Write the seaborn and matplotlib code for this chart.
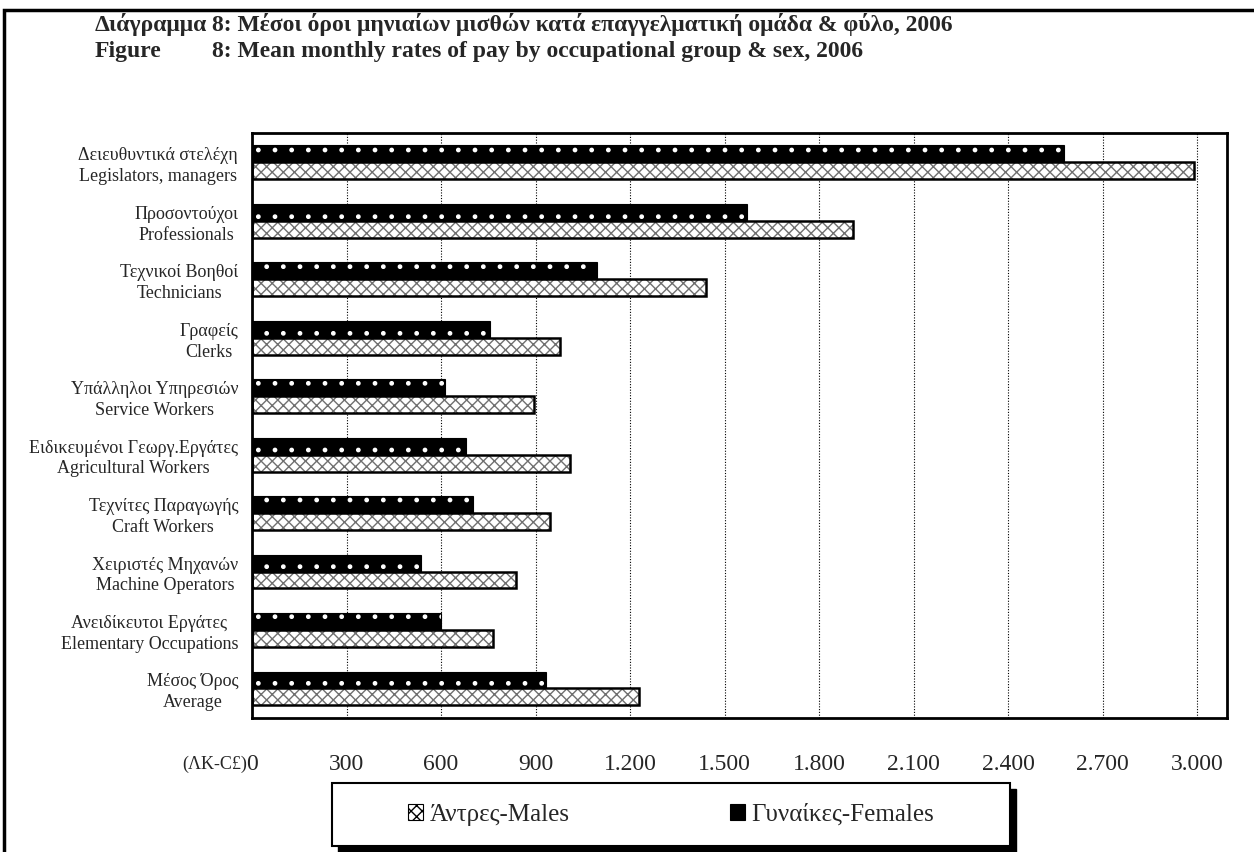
import numpy as np
import pandas as pd
import matplotlib
matplotlib.use("Agg")
import matplotlib.pyplot as plt
import matplotlib.ticker as mticker
from matplotlib.patches import Patch, Rectangle
import seaborn as sns

# data
groups_gr = ["Δειευθυντικά στελέχη", "Προσοντούχοι", "Τεχνικοί Βοηθοί", "Γραφείς",
             "Υπάλληλοι Υπηρεσιών", "Ειδικευμένοι Γεωργ.Εργάτες", "Τεχνίτες Παραγωγής",
             "Χειριστές Μηχανών", "Ανειδίκευτοι Εργάτες", "Μέσος Όρος"]
groups_en = ["Legislators, managers", "Professionals", "Technicians", "Clerks",
             "Service Workers", "Agricultural Workers", "Craft Workers",
             "Machine Operators", "Elementary Occupations", "Average"]
males = [2990, 1909, 1440, 977, 895, 1011, 945, 837, 766, 1230]
females = [2576, 1571, 1094, 754, 614, 678, 701, 538, 600, 932]
male_lbl = "Άντρες-Males"
female_lbl = "Γυναίκες-Females"
xticks = list(range(0, 3001, 300))

labels = [g + "\n" + e for g, e in zip(groups_gr, groups_en)]
df = pd.DataFrame({
    "group": labels * 2,
    "value": females + males,
    "sex": [female_lbl] * len(labels) + [male_lbl] * len(labels),
})

sns.set_style("white")
plt.rcParams["font.family"] = ["Liberation Serif", "DejaVu Serif"]
plt.rcParams["hatch.linewidth"] = 1.0

W, H = 1254, 852
fig = plt.figure(figsize=(W / 100, H / 100), dpi=100)
ax = fig.add_axes([252 / W, 1 - 717.7 / H, (1227 - 252) / W, (717.7 - 133) / H])

sns.barplot(data=df, y="group", x="value", hue="sex", hue_order=[female_lbl, male_lbl],
            order=labels, orient="h", width=0.58, ax=ax, legend=False, saturation=1)

male_hatch = dict(facecolor="white", edgecolor="#707070", hatch="xxx")
female_hatch = dict(facecolor="black", edgecolor="white", hatch=".")

n = len(labels)
for i, p in enumerate(ax.patches[:2 * n]):
    style = female_hatch if i < n else male_hatch
    p.set_facecolor(style["facecolor"])
    p.set_edgecolor(style["edgecolor"])
    p.set_hatch(style["hatch"])
    p.set_linewidth(0)
    # outline
    ax.add_patch(Rectangle(p.get_xy(), p.get_width(), p.get_height(),
                           fill=False, edgecolor="black", linewidth=1.8 if i >= n else 0.8,
                           zorder=p.get_zorder() + 0.1))

ax.set_xlim(0, 3095)
ax.set_ylim(n - 0.5, -0.5)
ax.set_xticks(xticks)
ax.xaxis.set_major_formatter(mticker.FuncFormatter(lambda v, _: f"{int(v):,}".replace(",", ".")))
ax.tick_params(axis="x", direction="out", length=7, width=1.2, labelsize=17, pad=19)
ax.grid(axis="x", color="black", linestyle=(0, (1, 1.5)), linewidth=0.8)
ax.set_axisbelow(True)

ax.set_yticks(range(n))
ax.set_yticklabels(labels)
ax.set_yticks(np.arange(-0.5, n, 1), minor=True)
ax.tick_params(axis="y", which="major", length=0, labelsize=13, pad=10)
ax.tick_params(axis="y", which="minor", direction="out", length=6, width=1.2)
for t in ax.get_yticklabels():
    t.set_multialignment("center")
    t.set_linespacing(1.3)
ax.set_xlabel("")
ax.set_ylabel("")
for s in ax.spines.values():
    s.set_visible(True)
    s.set_color("black")
    s.set_linewidth(2)

fig.text(247 / W, 1 - 769 / H, "(ΛΚ-C£)", ha="right", va="baseline", fontsize=13)

# title
tkw = dict(ha="left", va="center", fontsize=17, fontweight="bold")
fig.text(95 / W, 1 - 24 / H, "Διάγραμμα", **tkw)
fig.text(212 / W, 1 - 24 / H, "8: Μέσοι όροι μηνιαίων μισθών κατά επαγγελματική ομάδα & φύλο, 2006", **tkw)
fig.text(95 / W, 1 - 51 / H, "Figure", **tkw)
fig.text(212 / W, 1 - 51 / H, "8: Mean monthly rates of pay by occupational group & sex, 2006", **tkw)

# outer frame
fig.patches.append(Rectangle((4 / W, -0.1), 1.2, 1 - 10 / H + 0.1, transform=fig.transFigure,
                             fill=False, edgecolor="black", linewidth=2.5))

# legend box with black drop shadow
bx0, bx1, by0, by1 = 332, 1010, 783, 846
fig.patches.append(Rectangle(((bx0 + 6) / W, 1 - (by1 + 6) / H), (bx1 - bx0) / W, (by1 - by0) / H,
                             transform=fig.transFigure, facecolor="black", edgecolor="black"))
fig.patches.append(Rectangle((bx0 / W, 1 - by1 / H), (bx1 - bx0) / W, (by1 - by0) / H,
                             transform=fig.transFigure, facecolor="white", edgecolor="black",
                             linewidth=1.5))

handles = [Patch(linewidth=0.8, **male_hatch), Patch(linewidth=0.8, **female_hatch)]
leg = fig.legend(handles, [male_lbl, female_lbl], loc="center",
                 bbox_to_anchor=((bx0 + bx1) / 2 / W, 1 - (by0 + by1) / 2 / H),
                 ncol=2, fontsize=18, handlelength=0.6, handleheight=0.6,
                 handletextpad=0.25, columnspacing=6.4, frameon=False)
for h in leg.legend_handles:
    h.set_edgecolor("black")

fig.savefig("out.png", dpi=100)
